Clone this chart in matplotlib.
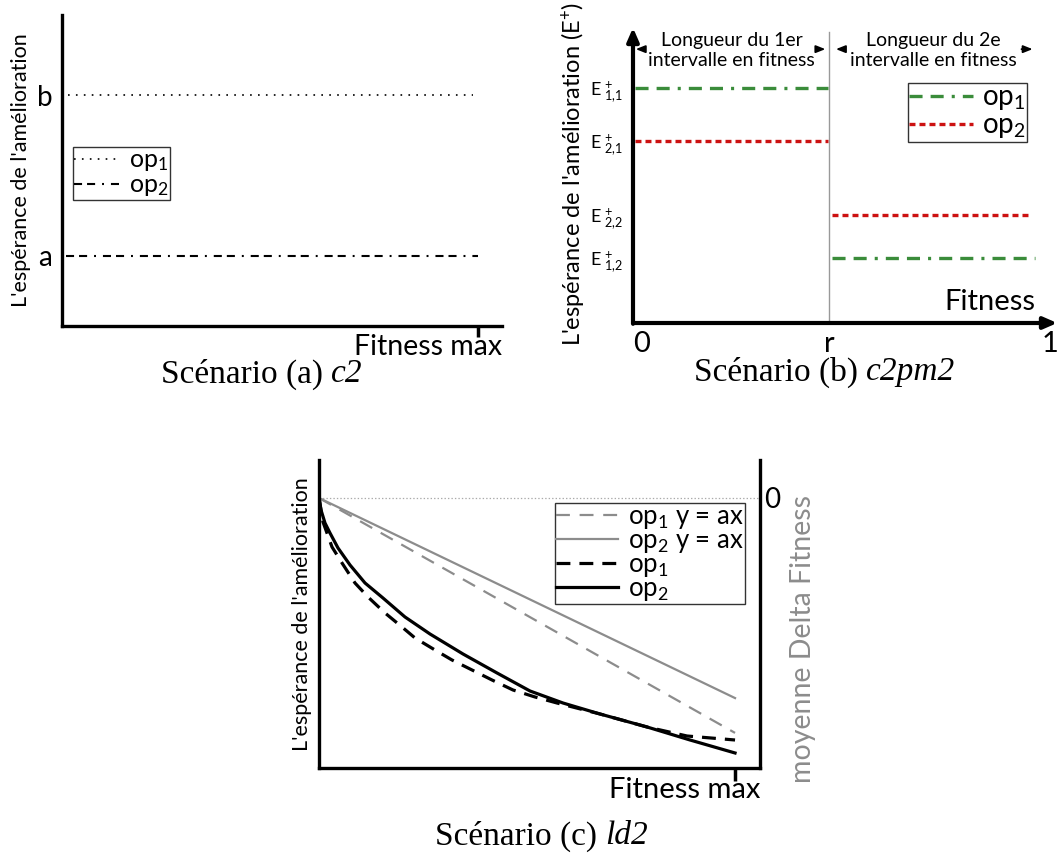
import numpy as np
import matplotlib
matplotlib.use('Agg')
import matplotlib.pyplot as plt

plt.rcParams['font.family'] = ['Lato', 'DejaVu Sans']
plt.rcParams['mathtext.fontset'] = 'custom'
plt.rcParams['mathtext.rm'] = 'Lato'
plt.rcParams['mathtext.it'] = 'Lato:italic'
plt.rcParams['mathtext.bf'] = 'Lato:bold'
plt.rcParams['mathtext.default'] = 'regular'
plt.rcParams['lines.scale_dashes'] = False

# ---- data ----
# (a) c2 : constant expectations
a_levels = [1.0, 2.0]          # a, b
a_names = ['a', 'b']

# (b) c2pm2 : two fitness intervals, split at r
r_split = 0.47
b_op1 = [0.789, 0.218]          # E+_{1,1}, E+_{1,2}
b_op2 = [0.611, 0.362]          # E+_{2,1}, E+_{2,2}
b_ticks = [0.789, 0.611, 0.362, 0.218]
b_ticklabels = [r'E$\;{}^{+}_{1{,}1}$', r'E$\;{}^{+}_{2{,}1}$', r'E$\;{}^{+}_{2{,}2}$', r'E$\;{}^{+}_{1{,}2}$']

# (c) ld2 : decreasing expectations
c_x_op1 = [0, 0.0096, 0.0313, 0.0553, 0.0865, 0.1178, 0.1587, 0.1995, 0.2308, 0.2788, 0.3197,
           0.3678, 0.4159, 0.4663, 0.5192, 0.5721, 0.6755, 0.7885, 0.8846, 1.0]
c_y_op1 = [0, -0.0889, -0.1815, -0.2407, -0.3148, -0.3667, -0.4259, -0.4778, -0.5185, -0.563, -0.6,
           -0.637, -0.6741, -0.7111, -0.737, -0.7593, -0.8, -0.8481, -0.8815, -0.8963]
c_x_op2 = [0, 0.0048, 0.0144, 0.0264, 0.0457, 0.0745, 0.1106, 0.1538, 0.2067, 0.2668, 0.3462,
           0.4279, 0.5072, 0.5865, 0.6755, 0.7885, 0.8918, 1.0]
c_y_op2 = [0, -0.0444, -0.0926, -0.1296, -0.1852, -0.2481, -0.3148, -0.3704, -0.4407, -0.5037, -0.5778,
           -0.6481, -0.7148, -0.7593, -0.8, -0.8481, -0.8963, -0.9444]
c_x_lin = [0, 1.0]
c_y_lin1 = [0, -0.870]
c_y_lin2 = [0, -0.741]

W, H = 1060, 856
fig = plt.figure(figsize=(W / 100, H / 100), dpi=100)


def px_axes(left, top, right, bottom):
    return fig.add_axes([left / W, 1 - bottom / H, (right - left) / W, (bottom - top) / H])


def caption(x, y, plain, ital):
    fig.text(x / W, 1 - y / H, plain, fontsize=24, family=serif, ha='right', va='center')
    fig.text(x / W, 1 - y / H, ital, fontsize=24, family=serif, style='italic', ha='left', va='center')


serif = 'Liberation Serif'
green = '#3a8c3a'
red = '#cc1111'
grey = '#8c8c8c'

# ================= (a) =================
ax = px_axes(62, 15, 502, 326)
ax.set_xlim(0, 1.058)
ax.set_ylim(0.565, 2.497)
for s in ['top', 'right']:
    ax.spines[s].set_visible(False)
for s in ['left', 'bottom']:
    ax.spines[s].set_linewidth(2.4)
ax.plot([0.014, 0.988], [a_levels[1]] * 2, color='black', lw=1.2, ls=(0, (1.2, 4.5)), label='op$_1$')
ax.plot([0.01, 1.0], [a_levels[0]] * 2, color='black', lw=1.5,
        ls=(0, (5.8, 3.6, 5.8, 5, 1.4, 5)), label='op$_2$')
ax.set_yticks(a_levels)
ax.set_yticklabels(a_names, fontsize=20)
ax.tick_params(axis='y', length=0, pad=7)
ax.set_xticks([1.0])
ax.set_xticklabels([''])
ax.tick_params(axis='x', length=8, width=2.5)
ax.text(1.0, -0.025, 'Fitness max', transform=ax.transAxes, ha='right', va='top', fontsize=20.5)
ax.set_ylabel("L'espérance de l'amélioration", fontsize=15.5, labelpad=4)
leg = ax.legend(loc='upper left', bbox_to_anchor=(0.024, 0.575), fontsize=18, frameon=True,
                fancybox=False, edgecolor='black', handlelength=1.9, handletextpad=0.3,
                borderpad=0.05, labelspacing=0.0, borderaxespad=0)
leg.get_frame().set_linewidth(1.0)
caption(331, 374, 'Scénario (a) ', 'c2')

# ================= (b) =================
ax = px_axes(633, 25, 1060, 323)
ax.set_xlim(0, 1.024)
ax.set_ylim(0, 1)
for s in ax.spines.values():
    s.set_visible(False)
ax.annotate('', xy=(0, 1.0), xytext=(0, -0.012), xycoords='axes fraction',
            arrowprops=dict(arrowstyle='-|>,head_length=0.8,head_width=0.35', lw=3, color='black'))
ax.annotate('', xy=(1.0, 0), xytext=(-0.004, 0), xycoords='axes fraction',
            arrowprops=dict(arrowstyle='-|>,head_length=0.8,head_width=0.35', lw=3, color='black'))
ax.plot([r_split, r_split], [0.01, 0.977], color='#999999', lw=1.0)
green_ls = (0, (9.4, 5.8, 9.4, 5.8, 2.2, 5.8))
red_ls = (0, (4.3, 2.9))
ax.plot([0.005, 0.468], [b_op1[0]] * 2, color=green, lw=2.4, ls=green_ls, label='op$_1$')
ax.plot([0.477, 0.964], [b_op1[1]] * 2, color=green, lw=2.4, ls=green_ls)
ax.plot([0.005, 0.468], [b_op2[0]] * 2, color=red, lw=2.4, ls=red_ls, label='op$_2$')
ax.plot([0.477, 0.947], [b_op2[1]] * 2, color=red, lw=2.4, ls=red_ls)
ax.set_yticks(b_ticks)
ax.set_yticklabels(b_ticklabels, fontsize=13)
ax.tick_params(axis='y', length=0, pad=7)
ax.set_xticks([0, r_split, 1.0])
ax.set_xticklabels(['0', 'r', '1'], fontsize=21)
ax.tick_params(axis='x', length=0, pad=6)
ax.get_xticklabels()[0].set_horizontalalignment('left')
ax.text(0.964, 0.07, 'Fitness', fontsize=21, ha='right', va='center')
ax.text(0.237, 0.915, 'Longueur du 1er\nintervalle en fitness', fontsize=14, ha='center', va='center',
        linespacing=1.25)
ax.text(0.72, 0.915, 'Longueur du 2e\nintervalle en fitness', fontsize=14, ha='center', va='center',
        linespacing=1.25)
arr = dict(arrowstyle='-|>,head_length=0.55,head_width=0.22', lw=1.3, color='black')
ax.annotate('', xy=(0.0, 0.919), xytext=(0.035, 0.919), arrowprops=arr)
ax.annotate('', xy=(0.468, 0.919), xytext=(0.44, 0.919), arrowprops=arr)
ax.annotate('', xy=(0.48, 0.919), xytext=(0.515, 0.919), arrowprops=arr)
ax.annotate('', xy=(0.965, 0.919), xytext=(0.925, 0.919), arrowprops=arr)
ax.set_ylabel("L'espérance de l'amélioration (E$^{+}$)", fontsize=17, labelpad=2)
leg = ax.legend(loc='upper left', bbox_to_anchor=(275 / 427, 1 - 58 / 298), fontsize=20, frameon=True,
                fancybox=False, edgecolor='black', handlelength=2.3, handletextpad=0.3,
                borderpad=0.05, labelspacing=0.0, borderaxespad=0)
leg.get_frame().set_linewidth(1.0)
caption(866, 372, 'Scénario (b) ', 'c2pm2')

# ================= (c) =================
ax = px_axes(319, 460, 760, 768)
ax.set_xlim(0, 1.06)
ax.set_ylim(-1.0, 0.1407)
ax.spines['top'].set_visible(False)
for s in ['left', 'bottom', 'right']:
    ax.spines[s].set_linewidth(2.4)
ax.axhline(0, color='#aaaaaa', lw=0.9, ls=(0, (1, 1.5)))
ax.plot(c_x_lin, c_y_lin1, color=grey, lw=1.6, ls=(0, (10, 7)), label='op$_1$ y = ax')
ax.plot(c_x_lin, c_y_lin2, color=grey, lw=1.6, label='op$_2$ y = ax')
ax.plot(c_x_op1, c_y_op1, color='black', lw=2.3, ls=(0, (10, 6.5)), label='op$_1$')
ax.plot(c_x_op2, c_y_op2, color='black', lw=2.3, label='op$_2$')
ax.set_yticks([])
ax.set_xticks([1.0])
ax.set_xticklabels([''])
ax.tick_params(axis='x', length=9, width=2.5)
ax.text(1.0, -0.03, 'Fitness max', transform=ax.transAxes, ha='right', va='top', fontsize=21)
ax.set_ylabel("L'espérance de l'amélioration", fontsize=15.5, labelpad=5)
ax2 = ax.twinx()
ax2.set_ylim(ax.get_ylim())
ax2.set_yticks([0])
ax2.set_yticklabels(['0'], fontsize=20)
ax2.tick_params(axis='y', length=0, pad=3)
for s in ax2.spines.values():
    s.set_visible(False)
ax2.set_ylabel('moyenne Delta Fitness', fontsize=20.5, color=grey)
ax2.yaxis.set_label_coords(1.068, 0.42)
leg = ax.legend(loc='upper left', bbox_to_anchor=(236 / 441, 1 - 43 / 308), fontsize=18.5, frameon=True,
                fancybox=False, edgecolor='black', handlelength=2.4, handletextpad=0.4,
                borderpad=0.05, labelspacing=-0.12, borderaxespad=0)
leg.get_frame().set_linewidth(1.0)
caption(605, 836, 'Scénario (c) ', 'ld2')

fig.savefig('out.png', dpi=100)
